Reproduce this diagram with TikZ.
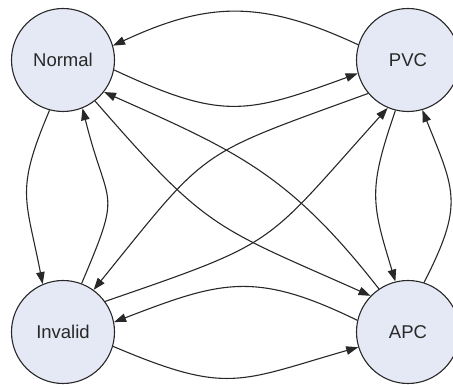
\documentclass[tikz,border=0pt]{standalone}
\usepackage{fontspec}
\setmainfont{Liberation Sans}
\usetikzlibrary{arrows.meta}
\definecolor{statefill}{RGB}{229,233,245}
\definecolor{inkgray}{RGB}{40,40,40}
\begin{document}
\begin{tikzpicture}[x=1pt,y=1pt,
  state/.style={circle,draw=inkgray,line width=1.1pt,fill=statefill,
    minimum size=103pt,inner sep=0pt,text=inkgray,
    font=\fontsize{18.5}{20}\selectfont},
  trans/.style={draw=inkgray,line width=1.1pt,
    -{Triangle[length=12pt,width=8.5pt]}}]
\clip (0,0) rectangle (453,385);

% the four states
\node[state] (Normal)  at (63,325)  {Normal};
\node[state] (PVC)     at (408,325) {PVC};
\node[state] (Invalid) at (63,53)   {Invalid};
\node[state] (APC)     at (408,53)  {APC};

% top pair
\draw[trans] (PVC.163) to[out=155,in=25,looseness=1.1] (Normal.16);
\draw[trans] (Normal.-11) to[out=-25,in=200,looseness=1.25] (PVC.195);

% left pair
\draw[trans] (Normal.-105) to[out=247,in=101,looseness=1.3] (Invalid.113);
\draw[trans] (Invalid.69) to[out=67,in=-76,looseness=1.55] (Normal.-68);

% right pair
\draw[trans] (PVC.256) to[out=-109,in=107,looseness=1.25] (APC.104);
\draw[trans] (APC.72) to[out=63,in=-68,looseness=1.3] (PVC.-74);

% bottom pair
\draw[trans] (APC.167) to[out=154,in=21,looseness=1.2] (Invalid.11);
\draw[trans] (Invalid.-16) to[out=-23,in=196,looseness=1.3] (APC.197);

% diagonals
\draw[trans] (APC.124) to[out=128,in=-24,looseness=1.1] (Normal.-38);
\draw[trans] (Normal.-52) to[out=-49,in=156,looseness=1.3] (APC.136);
\draw[trans] (PVC.220) to[out=200,in=51,looseness=1.4] (Invalid.54);
\draw[trans] (Invalid.36) to[out=19,in=228,looseness=1.4] (PVC.247);
\end{tikzpicture}
\end{document}
